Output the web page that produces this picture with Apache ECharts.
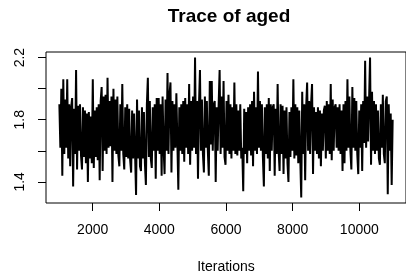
<!DOCTYPE html>
<html>
<head>
<meta charset="utf-8">
<script src="https://cdn.jsdelivr.net/npm/echarts@6/dist/echarts.min.js"></script>
<style>
  html, body { margin: 0; padding: 0; background: #fff; }
  #chart { width: 406px; height: 279px; }
</style>
</head>
<body>
<div id="chart"></div>
<script>
// trace of the "aged" parameter (upper/lower swings per pixel column)
var traceValues = [
  1.90, 1.62, 2.00, 1.44, 2.06, 1.58, 1.93, 1.62, 2.06, 1.55, 1.90, 1.50, 1.88, 1.94, 1.37, 1.87, 1.58, 2.12, 1.48, 1.89,
  1.60, 1.90, 1.57, 1.48, 1.88, 1.56, 1.86, 1.52, 1.84, 1.40, 1.85, 1.55, 1.82, 1.52, 2.06, 1.49, 1.86, 1.56, 1.88, 1.54,
  1.90, 1.41, 1.92, 2.01, 1.47, 1.95, 1.60, 1.96, 1.58, 2.07, 1.62, 1.92, 1.63, 1.95, 1.40, 2.00, 1.60, 1.93, 1.58, 1.95,
  1.57, 1.50, 1.90, 1.60, 2.03, 1.58, 1.48, 1.88, 1.56, 1.90, 1.55, 1.87, 1.54, 1.46, 1.86, 1.55, 1.84, 1.58, 1.315, 1.93,
  1.55, 1.86, 1.50, 1.47, 1.88, 1.55, 1.85, 1.52, 1.38, 1.90, 2.07, 1.56, 1.92, 1.55, 1.49, 1.88, 1.60, 1.90, 1.42, 1.94,
  1.60, 1.94, 1.58, 1.90, 1.44, 1.95, 1.62, 1.45, 1.93, 1.60, 2.10, 1.58, 1.96, 2.04, 1.46, 1.92, 1.60, 1.90, 1.62, 1.97,
  1.98, 1.35, 1.88, 1.60, 1.90, 1.58, 1.92, 1.53, 1.94, 1.62, 1.90, 1.58, 2.03, 1.51, 1.92, 1.60, 1.95, 1.62, 2.20, 1.58,
  1.92, 1.42, 1.90, 2.12, 1.60, 1.93, 1.58, 1.46, 1.95, 1.62, 1.92, 1.60, 1.44, 2.05, 1.64, 2.05, 1.60, 1.90, 1.92, 1.40,
  1.88, 1.60, 1.90, 2.12, 1.58, 1.95, 1.62, 2.05, 1.56, 1.51, 1.92, 1.60, 1.96, 1.58, 1.90, 1.55, 1.88, 1.60, 2.04, 1.58,
  1.90, 1.57, 1.86, 1.60, 1.90, 1.55, 1.62, 1.34, 1.87, 1.58, 1.85, 1.52, 1.88, 1.60, 1.90, 1.57, 1.92, 1.50, 1.98, 1.60,
  1.88, 1.58, 2.11, 1.62, 1.92, 1.60, 1.90, 1.56, 1.37, 1.88, 1.58, 1.90, 1.55, 1.94, 1.47, 1.90, 1.60, 1.88, 1.90, 1.44,
  1.87, 1.58, 2.03, 1.60, 1.47, 1.90, 1.58, 1.89, 1.45, 1.86, 1.55, 1.88, 1.52, 1.40, 1.85, 1.56, 1.88, 1.60, 2.06, 1.55,
  1.90, 1.57, 1.88, 1.52, 1.86, 1.55, 1.30, 1.98, 1.58, 1.90, 1.41, 1.88, 2.04, 1.60, 1.92, 1.58, 1.90, 2.03, 1.45, 1.88,
  1.60, 1.85, 1.58, 1.88, 1.55, 1.86, 1.50, 1.84, 1.60, 1.86, 1.89, 1.55, 1.92, 1.60, 1.90, 1.58, 2.03, 1.54, 1.93, 1.60,
  1.88, 1.90, 1.62, 1.88, 1.60, 1.90, 1.58, 1.86, 1.47, 1.90, 1.52, 1.92, 1.60, 2.06, 1.62, 1.95, 1.60, 1.48, 2.01, 1.62,
  1.94, 1.60, 1.92, 1.58, 1.45, 1.86, 1.62, 1.90, 1.47, 1.92, 1.65, 2.18, 1.62, 1.95, 1.66, 1.93, 2.20, 1.51, 1.98, 1.60,
  1.92, 1.58, 1.90, 1.60, 1.86, 1.55, 1.51, 1.90, 1.62, 1.96, 1.58, 1.52, 1.92, 1.95, 1.32, 1.90, 1.60, 1.84, 1.38, 1.80
];
var firstIter = 1001;
var lastIter = 11000;

var xTicks = [2000, 4000, 6000, 8000, 10000];
var yTicks = [1.4, 1.6, 1.8, 2.0, 2.2];
var yLabels = [1.4, 1.8, 2.2];

var chart = echarts.init(document.getElementById('chart'), null, { renderer: 'canvas' });

var step = (lastIter - firstIter) / (traceValues.length - 1);
var points = traceValues.map(function (v, i) {
  return [firstIter + i * step, v];
});

var font = 'Liberation Sans, Arial, sans-serif';

var option = {
  animation: false,
  backgroundColor: '#fff',
  graphic: [{
    type: 'text',
    x: 229,
    y: 17,
    style: {
      text: 'Trace of aged',
      font: 'bold 19px ' + font,
      fill: '#000',
      align: 'center',
      verticalAlign: 'middle'
    }
  }],
  grid: {
    left: 46,
    top: 52,
    width: 366,
    height: 152,
    show: true,
    borderColor: '#000',
    borderWidth: 1,
    backgroundColor: 'transparent'
  },
  xAxis: {
    type: 'value',
    min: 600,
    max: 11400,
    name: 'Iterations',
    nameLocation: 'middle',
    nameGap: 57,
    nameTextStyle: { color: '#000', fontSize: 14, fontFamily: font },
    axisLine: { show: false },
    axisTick: { show: true, length: 8, customValues: xTicks, lineStyle: { color: '#000' } },
    axisLabel: {
      customValues: xTicks,
      margin: 20,
      color: '#000',
      fontSize: 14,
      fontFamily: font,
      formatter: function (v) { return String(v); }
    },
    splitLine: { show: false }
  },
  yAxis: {
    type: 'value',
    min: 1.264,
    max: 2.236,
    axisLine: { show: false },
    axisTick: { show: true, length: 8, customValues: yTicks, lineStyle: { color: '#000' } },
    axisLabel: {
      customValues: yLabels,
      rotate: 90,
      margin: 19,
      color: '#000',
      fontSize: 14,
      fontFamily: font,
      formatter: function (v) { return v.toFixed(1); }
    },
    splitLine: { show: false }
  },
  series: [{
    type: 'line',
    data: points,
    showSymbol: false,
    symbol: 'none',
    sampling: 'none',
    lineStyle: { color: '#000', width: 2 },
    clip: true
  }]
};

chart.setOption(option);
</script>
</body>
</html>
